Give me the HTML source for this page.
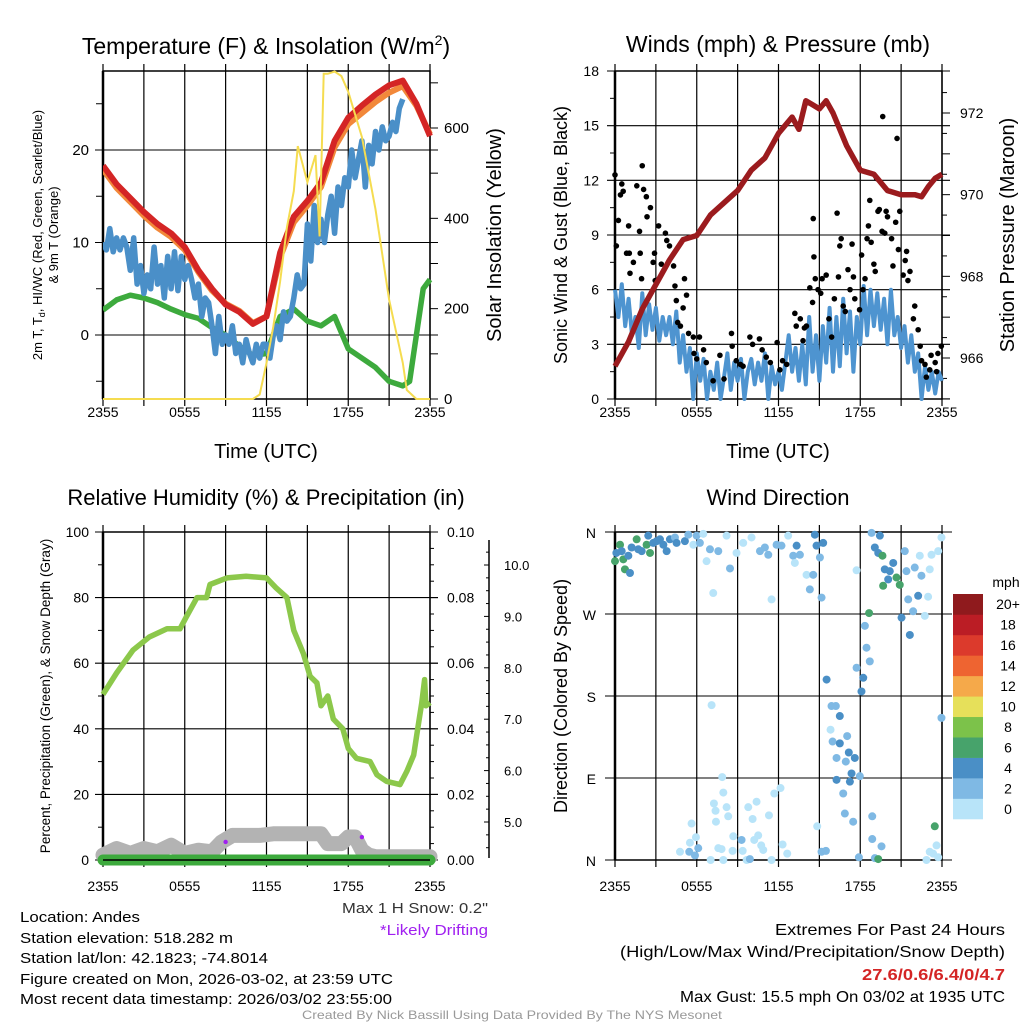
<!DOCTYPE html>
<html><head><meta charset="utf-8"><style>
html,body{margin:0;padding:0;background:#fff;}
svg{display:block;font-family:"Liberation Sans",sans-serif;}
</style></head><body>
<svg id="fig" width="1024" height="1024" viewBox="0 0 1024 1024" xmlns="http://www.w3.org/2000/svg"></svg>
<script>
// ---------- DATA ----------
const tempHours=[0,1,2,3,4,5,6,7,8,9,10,11,12,13,14,15,16,17,18,19,20,21,22,23,24];
const tempRed=[18.3,16.3,14.8,13.3,12,11,9.5,7,5,3.3,2.5,1.2,2,8.9,12.8,14.5,16.5,21,23.5,24.8,26,27,27.5,25,21.5];
const temp9m=[17.9,15.9,14.4,12.9,11.6,10.6,9.2,6.8,4.8,3.4,2.6,1.3,2,8.4,12.2,14,16,20.3,22.8,24,25.2,26.2,26.9,24.8,21.7];
const chillBlue=[10,9.2,11.5,9,10.5,9.2,10.5,9.5,7,10.5,5.5,7.5,4.5,6.5,5,9.5,5.5,7.5,4,8.5,5,9,4.8,8.5,6,7.5,6,4,5.5,2,4,3.5,1,-2,2,-1,0,-1,1,-2,-1,-3,-0.5,-2,-3,-1,-2.5,-1,-1,-2.5,0,1,-0.5,2.5,1.5,2,4,6.5,5,5.5,12,8,14,10,12.5,10,13,15,11,16,14,17,16,20,17,19,21,16,20.5,18.5,22,20,22.5,21,21.5,23,22,24.5,25.5];
const chillHours=chillBlue.map((_,i)=>i*0.25);
const dewHours=[0,1,2,3,4,5,6,7,8,9,10,11,12,13,14,15,16,17,18,19,20,21,22,22.5,23,23.5,24];
const dewGreen=[2.7,3.8,4.3,4,3.5,2.8,2.2,1.8,0.8,0,-1.2,-2.2,-2,2,2.8,1.5,1,2,-1.5,-2.5,-3.5,-5,-5.5,-5,0,5,6];
const solarHours=[0,11,11.5,12,12.5,13,13.5,14,14.3,15,15.6,15.9,16.2,16.5,17,17.5,18,19,20,21,22,22.3,23,24];
const solarVals=[0,0,10,80,160,260,380,460,560,480,540,360,720,720,725,715,680,580,420,220,80,20,0,0];
const windSpeed=[6,4.5,6.3,4,5.5,3.5,4.5,2.8,5.8,3.5,5.2,3.8,5,3.2,4.5,3.5,4.5,3,4.8,2,3.5,1.5,2.8,0,2.5,1,2.2,0,1.5,0.5,2,0,1.2,2.5,0.5,2,1,2.2,0,1.5,2.2,0.8,2,1,2.5,0,1.8,0.8,1.5,0.5,2,3.5,1.5,2.8,1,3,0.8,4.5,1.5,3.5,1,4,2,5,1.5,4.5,1.8,5.5,2.5,4.8,1.5,4.5,3,6.2,3.5,6,4,5.8,3.8,5.5,3,6,3.5,4.5,2.8,4,2,3.5,1.5,2.5,0,1.8,0.5,1.5,0.3,1.5,1];
const windHours=windSpeed.map((_,i)=>i*0.25);
const gustHours=[0,0.1,0.25,0.4,0.5,0.6,1,0.85,1.05,1.35,1.1,1.6,1.8,2,2.1,2.3,2.35,2.6,1.85,1.95,2.9,2.8,2.95,3.2,3.4,3.7,3.8,4,4.3,4.4,4.5,4.6,4.8,5,5.1,5.25,5.4,5.75,6.2,6.5,5.8,6,6.7,7.2,7.7,8,8.55,8.6,8.9,9.2,9.4,9.9,10.1,10.6,10.8,11.1,11.4,11.9,12.1,12.3,12.6,13.2,13.3,13.6,13.8,13.9,14.05,14.3,14.5,14.55,14.6,14.7,14.9,15.1,15.2,15.5,15.7,15.9,16.1,16.3,16.4,16.5,16.6,16.75,16.9,17.1,17.25,17.4,17.5,17.6,17.95,18.1,18.2,18.35,18.5,18.6,18.7,18.8,19,19.1,19.2,19.3,19.4,19.6,19.65,19.8,19.9,20,20.3,20.4,20.6,20.7,20.8,20.9,21.15,21.3,21.4,21.5,21.65,21.9,22,22.25,22.4,22.5,22.75,22.85,23.1,23.2,23.5,23.6,23.7,23.95];
const gustVals=[12.3,8.4,9.8,11.2,11.8,11.4,9.5,8,8,7.5,6.9,11.7,9.2,12.8,11.5,11.1,10,10.5,8,6.6,8,7.5,6.5,9.5,7.4,9.1,8.7,8.4,7.3,6.2,5.4,4.2,4,5,6.6,5.7,3.6,3.4,3.4,2.7,2.5,2.2,2,1,2.4,1.1,3.6,2.9,2.1,1.9,1.8,3.4,3,3.3,2.7,2.3,2,3.1,1.6,2.1,1.9,4.7,4,4.4,3.2,3.9,4,6.1,5.3,9.9,7.8,6.6,6,5.8,6.6,6.8,4.4,3.4,5.5,10.2,6.7,8.4,8.8,5.1,4.8,7.1,6,8.5,6.7,5.5,4.9,7.9,6,6.6,8.8,9.5,10.9,8.6,7.4,7,12.1,10.3,10.4,9.2,15.5,9.1,10.3,10,8.8,7.3,9.7,14.3,8.2,10.3,6.8,7.6,8.1,6.5,7,4.4,5.1,3.8,2.9,2.1,1.9,1.2,1.6,2.4,2,1.5,2.5,2.9];
const presHours=[0,1,2,3,4,5,6,7,8,9,10,11,12,13,13.5,14,14.5,15,15.5,16,16.5,17,17.5,18,19,20,21,22,22.5,23,23.5,24];
const presVals=[965.8,966.4,967.2,967.8,968.4,968.9,969.0,969.5,969.8,970.1,970.6,970.9,971.5,971.9,971.6,972.3,972.2,972.1,972.3,972.0,971.6,971.2,970.9,970.6,970.5,970.1,970,970,969.95,970.2,970.4,970.5];
const rhHours=[0,1,2.2,3.4,4.7,5.65,6.1,6.9,7.6,7.85,9.1,10.5,12,12.7,13.5,14,14.7,15.2,15.7,16,16.5,16.9,17.6,18,18.6,19.6,20.1,20.8,21.8,22.3,22.8,23.1,23.4,23.6,23.7,24];
const rhVals=[50.5,57,64,68,70.5,70.5,74,80,80,84,86,86.5,86,83,80,70,63,56,54,47,50,43,40,34,31,30,26,24,23,27,32,40,48,55,47,48];
const snowHours=[0,0.5,1,2,3,4,5,6,7,8,8.7,9.5,10.5,11.5,12.5,13.5,15,16,16.5,17,17.5,18,18.5,19,19.5,20,24];
const snowVals=[1.5,2.5,3.5,2,3.5,2.5,4.5,2,3,2.5,5.5,7.5,7.5,7.5,8,8,8,8,5,5,5,7,7,3,1.5,1,1];
const precipVals=[0,0];
const precipHours=[0,24];
const driftHours=[9,19];
const driftVals=[5.5,7];
const dirHours=[0,0.1,0.37,0.49,0.61,0.73,0.98,1.1,1.22,1.59,1.71,1.96,2.32,2.44,2.57,2.81,3.06,3.3,3.55,3.79,4.03,4.4,4.52,5.13,5.38,5.75,5.99,6.23,6.48,6.72,6.97,7.21,7.58,8.19,8.44,8.92,9.41,10.02,10.64,11,11.25,11.49,11.86,12.22,12.71,13.08,13.2,13.33,13.57,14.06,14.3,14.55,14.67,14.79,15.04,15.16,15.28,15.53,15.89,16.21,16.5,15.82,15.97,16.5,17.04,16.26,16.94,17.16,17.6,16.26,16.75,16.87,17.24,17.36,17.48,17.73,18.22,18.09,17.97,18.7,18.46,18.34,18.65,17.73,18.83,19.07,19.44,19.32,19.63,19.8,19.68,20.05,20.17,20.42,20.66,20.9,21.03,21.39,21.27,21.52,21.64,21.88,22,22.25,22.49,22.37,22.74,22.98,23.1,23.23,23.72,23.96,23.96,7.09,7.87,7.95,7.26,7.38,7.41,8.19,8.31,5.62,5.94,5.5,4.77,5.45,5.87,6.11,7.02,7.58,7.82,7.95,8.68,8.63,9.29,9.37,9.78,10.1,10.39,10.51,10.22,10.73,10.88,9.66,9.9,11.3,11.69,12.15,12.3,12.64,11.49,14.84,15.16,15.48,17.9,18.88,18.88,19.56,19.07,19.32,23.47,23.6,23.1,23.35,22.86,23.72];
const dirDeg=[328,337,346,339,330,319,334,315,343,352,341,339,346,356,337,348,350,352,346,339,352,354,348,350,357,346,356,348,358,328,341,293,339,356,320,337,348,354,339,343,335,286,346,345,356,334,326,345,335,313,297,313,357,345,332,288,348,198,169,169,158,143,130,128,136,112,108,118,112,88,73,51,86,95,42,211,200,185,92,218,233,257,271,318,359,343,356,337,334,319,301,308,317,326,310,302,266,317,339,286,247,273,321,290,312,334,268,289,319,335,339,354,156,170,91,74,62,54,42,58,48,40,25,19,9,9,5,13,0,13,12,0,26,10,22,10,58,45,64,27,22,16,11,0,1,49,73,79,17,7,0,37,9,10,3,48,23,15,2,1,37,16,9,7,0,3];
const dirSpeed=[6,4,6,4,6,6,4,4,4,6,4,4,6,4,6,4,4,4,4,4,4,2,4,4,2,0,2,2,0,0,2,0,2,0,2,0,0,0,2,2,2,0,2,2,0,2,0,4,2,0,2,2,4,4,2,2,4,4,2,2,4,0,2,4,2,2,2,4,4,4,2,2,4,4,2,2,4,4,2,2,2,2,6,0,2,4,4,4,6,4,6,4,4,4,6,6,4,2,2,2,4,2,2,4,2,0,0,0,0,0,0,0,2,0,0,0,0,0,0,0,0,0,0,0,0,2,2,2,0,0,0,0,0,0,2,0,0,0,0,0,0,0,0,0,2,0,0,0,0,0,0,0,2,2,2,2,2,2,2,6,6,0,0,0,0,0,0];
const cbLabels=["0","2","4","6","8","10","12","14","16","18","20+"];
const cbColors=["#b8e4f9","#7fb9e4","#4a8fc6","#47a36b","#7cc24a","#e6e05a","#f5a94a","#ee6431","#dc3a2c","#bb1d25","#8f1a1d"];
const timeLabels=["2355","0555","1155","1755","2355"];

// ---------- HELPERS ----------
const NS="http://www.w3.org/2000/svg";
const svg=document.getElementById('fig');
function el(tag,attrs,parent){const e=document.createElementNS(NS,tag);for(const k in attrs)e.setAttribute(k,attrs[k]);(parent||svg).appendChild(e);return e;}
function txt(s,x,y,size,anchor,parent,extra){const t=el('text',Object.assign({x:x,y:y,'font-size':size,'text-anchor':anchor||'middle',fill:'#000'},extra||{}),parent);t.textContent=s;return t;}
function lin(d0,d1,p0,p1){return v=>p0+(v-d0)*(p1-p0)/(d1-d0);}
function pathOf(xs,ys,fx,fy){return xs.map((h,i)=>(i?'L':'M')+fx(h).toFixed(1)+','+fy(ys[i]).toFixed(1)).join('');}

function frame(g,x0,x1,y0,y1,labY){
  for(let h=0;h<=24;h+=3){const x=lin(0,24,x0,x1)(h);
    const l=el('line',{x1:x,x2:x,y1:y0-7,y2:y1+7,stroke:'#000','stroke-width':1.2},g);
    
    }
  const r=el('rect',{x:x0,y:y0,width:x1-x0,height:y1-y0,fill:'none',stroke:'#000','stroke-width':1.5},g);
  
  
  el('line',{x1:x0,x2:x0,y1:y0,y2:y1,stroke:'#000','stroke-width':2.5},g);
  timeLabels.forEach((s,i)=>{const t=txt(s,lin(0,4,x0,x1)(i),labY,14,'middle',g);
    
    });
}
function hgrid(g,x0,x1,y,len){el('line',{x1:x0-len,x2:x1+len,y1:y,y2:y,stroke:'#000','stroke-width':1.1},g);}
function tickL(g,x,y,len){el('line',{x1:x-len,x2:x,y1:y,y2:y,stroke:'#000','stroke-width':1},g);}
function tickR(g,x,y,len){el('line',{x1:x,x2:x+len,y1:y,y2:y,stroke:'#000','stroke-width':1},g);}

// ---------- PANEL 1 ----------
(function(){
const g=el('g',{});


const x0=103,x1=430,y0=71,y1=399;
const fx=lin(0,24,x0,x1), fy=lin(0,20,335,150), fs=lin(0,600,399,128);
[-5,5,15,25].forEach(v=>tickL(g,x0,fy(v),7));
[0,10,20].forEach(v=>{hgrid(g,x0,x1,fy(v),8);const t=txt(String(v),x0-14,fy(v)+5,15,'end',g);
  
  });
[100,300,500,700].forEach(v=>tickR(g,x1,fs(v),8));
[0,200,400,600].forEach(v=>{tickR(g,x1,fs(v),8);const t=txt(String(v),x1+14,fs(v)+5,15,'start',g);
  
  });
frame(g,x0,x1,y0,y1,417);
const cp=el('clipPath',{id:'c1'},g);el('rect',{x:x0,y:y0-4,width:x1-x0+4,height:y1-y0+4},cp);
const dg=el('g',{'clip-path':'url(#c1)'},g);
let p=el('path',{d:pathOf(dewHours,dewGreen,fx,fy),fill:'none',stroke:'#3daa3d','stroke-width':5.5,'stroke-linejoin':'round'},dg);

p=el('path',{d:pathOf(chillHours,chillBlue,fx,fy),fill:'none',stroke:'#4a8fc8','stroke-width':5.5,'stroke-linejoin':'round'},dg);

p=el('path',{d:pathOf(tempHours,temp9m,fx,fy),fill:'none',stroke:'#f2883a','stroke-width':6,'stroke-linejoin':'round'},dg);

p=el('path',{d:pathOf(tempHours,tempRed,fx,fy),fill:'none',stroke:'#d42525','stroke-width':6,'stroke-linejoin':'round'},dg);

p=el('path',{d:pathOf(solarHours,solarVals,fx,fs),fill:'none',stroke:'#f5dc50','stroke-width':2},g);

let t=el('text',{x:266,y:54,'font-size':23,'text-anchor':'middle'},g);
t.innerHTML='Temperature (F) &amp; Insolation (W/m<tspan dy="-9" font-size="14">2</tspan><tspan dy="9">)</tspan>';

t=txt('Time (UTC)',266,458,20,'middle',g);
t=el('text',{transform:'translate(42,235) rotate(-90)','font-size':13,'text-anchor':'middle'},g);
t.innerHTML='2m T, T<tspan dy="3" font-size="9">d</tspan><tspan dy="-3">, HI/WC (Red, Green, Scarlet/Blue)</tspan>';

t=txt('& 9m T (Orange)',0,0,13,'middle',g,{transform:'translate(58,235) rotate(-90)'});

t=txt('Solar Insolation (Yellow)',0,0,20,'middle',g,{transform:'translate(501,235) rotate(-90)'});

})();

// ---------- PANEL 2 ----------
(function(){
const g=el('g',{});


const x0=615,x1=942,y0=71,y1=399;
const fx=lin(0,24,x0,x1), fy=lin(0,18,y1,y0), fp=lin(966,972,358,113);
[0,3,6,9,12,15,18].forEach(v=>{hgrid(g,x0,x1,fy(v),8);const t=txt(String(v),x0-16,fy(v)+5,14,'end',g);
  });
[1.5,4.5,7.5,10.5,13.5,16.5].forEach(v=>tickL(g,x0,fy(v),5));
for(let v=965;v<=972.5;v+=0.5){tickR(g,x1,fp(v),v%1===0?8:5);}
[966,968,970,972].forEach(v=>{const t=txt(String(v),x1+18,fp(v)+5,14,'start',g);
  });
frame(g,x0,x1,y0,y1,417);
let p=el('path',{d:pathOf(windHours,windSpeed,fx,fy),fill:'none',stroke:'#4e94d0','stroke-width':4,'stroke-linejoin':'round'},g);

gustHours.forEach((h,i)=>{const c=el('circle',{cx:fx(h),cy:fy(gustVals[i]),r:2.8,fill:'#000'},g);
  });
p=el('path',{d:pathOf(presHours,presVals,fx,fp),fill:'none',stroke:'#9b1b1e','stroke-width':5.5,'stroke-linejoin':'round'},g);

let t=txt('Winds (mph) & Pressure (mb)',778,52,23,'middle',g);
t=txt('Time (UTC)',778,458,20,'middle',g);
t=txt('Sonic Wind & Gust (Blue, Black)',0,0,18,'middle',g,{transform:'translate(567,235) rotate(-90)'});

t=txt('Station Pressure (Maroon)',0,0,20,'middle',g,{transform:'translate(1014,235) rotate(-90)'});

})();

// ---------- PANEL 3 ----------
(function(){
const g=el('g',{});


const x0=103,x1=430,y0=532,y1=860;
const fx=lin(0,24,x0,x1), fy=lin(0,100,y1,y0), fs=lin(5,10,822,565);
[0,20,40,60,80,100].forEach(v=>{hgrid(g,x0,x1,fy(v),8);const t=txt(String(v),x0-14,fy(v)+5,14,'end',g);
  });
[10,30,50,70,90].forEach(v=>tickL(g,x0,fy(v),5));
for(let v=0;v<=100;v+=5)tickR(g,x1,fy(v),v%20===0?8:4);
['0.00','0.02','0.04','0.06','0.08','0.10'].forEach((s,i)=>{const t=txt(s,x1+17,fy(i*20)+5,14,'start',g);
  });
el('line',{x1:489,x2:489,y1:540,y2:858,stroke:'#000','stroke-width':1.5},g);
for(let v=4.5;v<=10.5;v+=0.25){const y=fs(v);if(y<540||y>858)continue;el('line',{x1:v%1===0?484:486,x2:489,y1:y,y2:y,stroke:'#000','stroke-width':1},g);}
['5.0','6.0','7.0','8.0','9.0','10.0'].forEach((s,i)=>{const t=txt(s,504,fs(5+i)+5,13,'start',g);
  });
frame(g,x0,x1,y0,y1,891);
let p=el('path',{d:pathOf(snowHours,snowVals,fx,fy),fill:'none',stroke:'#b3b3b3','stroke-width':15,'stroke-linejoin':'round','stroke-linecap':'round'},g);

p=el('path',{d:pathOf(precipHours,precipVals,fx,fy),fill:'none',stroke:'#3daa3d','stroke-width':11,'stroke-linecap':'round'},g);

el('line',{x1:x0,x2:x1,y1:y1,y2:y1,stroke:'#000','stroke-width':1.5},g);
p=el('path',{d:pathOf(rhHours,rhVals,fx,fy),fill:'none',stroke:'#8cc84b','stroke-width':5.5,'stroke-linejoin':'round'},g);

driftHours.forEach((h,i)=>{const c=el('circle',{cx:fx(h),cy:fy(driftVals[i]),r:2.2,fill:'#a020f0'},g);
  });
let t=txt('Relative Humidity (%) & Precipitation (in)',266,505,22,'middle',g);
t=txt('Percent, Precipitation (Green), & Snow Depth (Gray)',0,0,13.5,'middle',g,{transform:'translate(50,696) rotate(-90)'});

})();

// ---------- PANEL 4 ----------
(function(){
const g=el('g',{});


const x0=615,x1=942,y0=532,y1=860;
const fx=lin(0,24,x0,x1), fy=lin(0,360,y1,y0);
['N','E','S','W','N'].forEach((s,i)=>{hgrid(g,x0,x1,fy(i*90),10);const t=txt(s,x0-19,fy(i*90)+6,14,'end',g);
  });
frame(g,x0,x1,y0,y1,891);
dirHours.forEach((h,i)=>{const c=el('circle',{cx:fx(h),cy:fy(dirDeg[i]),r:4,fill:cbColors[dirSpeed[i]/2]},g);
  });
const cb=el('g',{},g);

const bh=(819-594)/cbColors.length;
cbColors.forEach((c,i)=>{const y=819-(i+1)*bh;el('rect',{x:953,y:y,width:30,height:bh+0.3,fill:c},cb);
  const t=txt(cbLabels[i],1008,y+bh/2+5,14,'middle',cb);});
let t=txt('mph',1006,587,14,'middle',cb);
t=txt('Wind Direction',778,505,22,'middle',g);
t=txt('Direction (Colored By Speed)',0,0,18,'middle',g,{transform:'translate(567,696) rotate(-90)'});

})();

// ---------- FOOTER ----------
(function(){
const g=el('g',{});


const lines=[['Location: Andes',922,120],['Station elevation: 518.282 m',943,213],['Station lat/lon: 42.1823; -74.8014',963,248],['Figure created on Mon, 2026-03-02, at 23:59 UTC',984,373],['Most recent data timestamp: 2026/03/02 23:55:00',1004,372]];
lines.forEach(l=>{const t=txt(l[0],20,l[1],15,'start',g,{textLength:l[2],lengthAdjust:'spacingAndGlyphs'});
  });
let t=txt('Max 1 H Snow: 0.2"',488,913,15,'end',g,{textLength:146,lengthAdjust:'spacingAndGlyphs',fill:'#333'});

t=txt('*Likely Drifting',488,935,15,'end',g,{textLength:108,lengthAdjust:'spacingAndGlyphs',fill:'#a020f0'});

t=txt('Extremes For Past 24 Hours',1005,935,16,'end',g,{textLength:230,lengthAdjust:'spacingAndGlyphs'});

t=txt('(High/Low/Max Wind/Precipitation/Snow Depth)',1005,957,16,'end',g,{textLength:385,lengthAdjust:'spacingAndGlyphs'});

t=txt('27.6/0.6/6.4/0/4.7',1005,980,16,'end',g,{textLength:143,lengthAdjust:'spacingAndGlyphs',fill:'#d42525','font-weight':'bold'});

t=txt('Max Gust: 15.5 mph On 03/02 at 1935 UTC',1005,1002,16,'end',g,{textLength:325,lengthAdjust:'spacingAndGlyphs'});

t=txt('Created By Nick Bassill Using Data Provided By The NYS Mesonet',512,1019,12,'middle',g,{textLength:420,lengthAdjust:'spacingAndGlyphs',fill:'#999'});

})();
</script>
</body></html>
